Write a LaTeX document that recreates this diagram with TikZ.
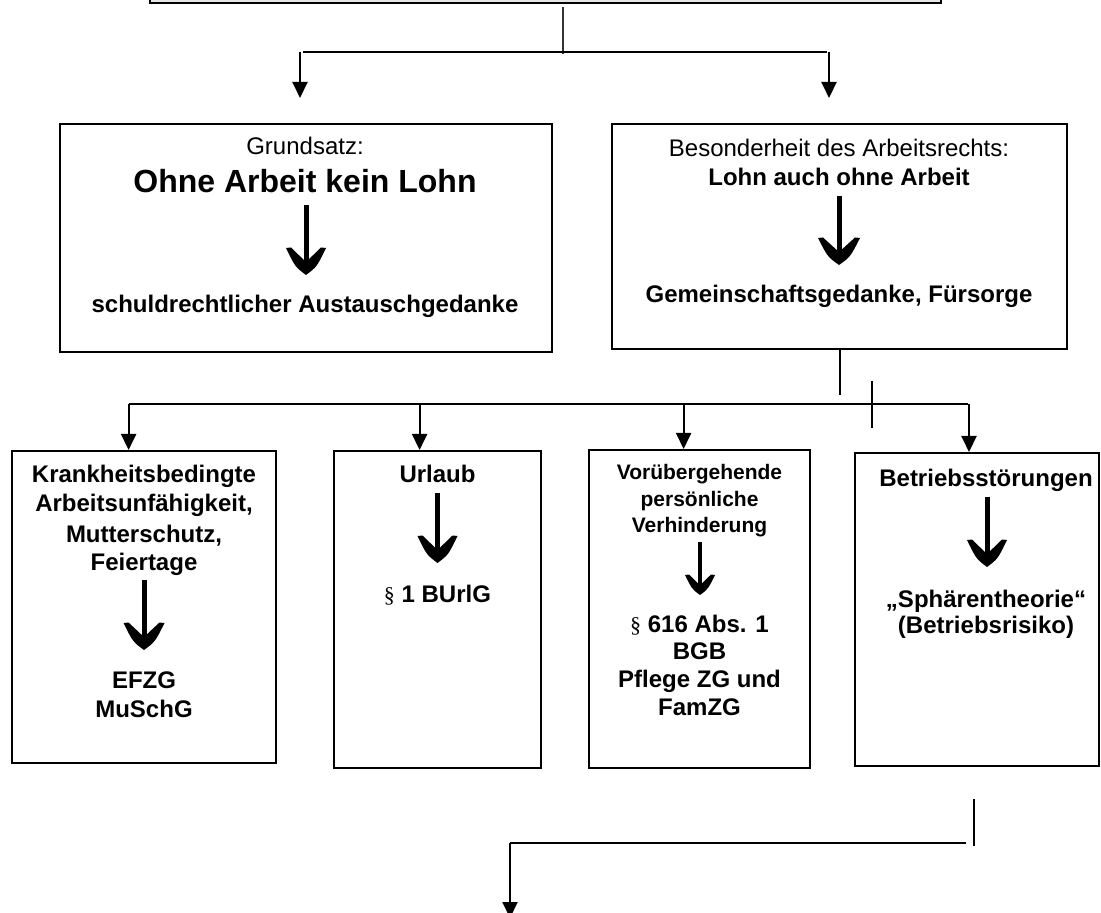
\documentclass[tikz,border=0pt]{standalone}
\usepackage{fontspec}
\setmainfont{Liberation Sans}
\newfontfamily\parafont{Liberation Serif}
\usetikzlibrary{arrows.meta,fit}
\newcommand\chevarrow[7]{% x, y-top, y-tip, head width, head height, shaft width, wing tip flat
  \draw[line width=#6] (#1,#2) -- (#1,#3-#5*0.45);
  \fill (#1,#3) .. controls (#1-#4*0.27,#3-#5*0.3) .. (#1-#4/2,#3-#5)
        -- (#1-#4/2+#7,#3-#5-0.5) -- (#1,#3-#5*0.48)
        -- (#1+#4/2-#7,#3-#5-0.5)
        -- (#1+#4/2,#3-#5) .. controls (#1+#4*0.27,#3-#5*0.3) .. (#1,#3) -- cycle;}
\begin{document}
\begin{tikzpicture}[x=0.5pt,y=-0.5pt,
  box/.style={draw,line width=1pt,inner sep=0pt,fit={#1}},
  reg/.style={anchor=base,inner sep=0pt,font=\fontsize{12}{14}\selectfont},
  bld/.style={anchor=base,inner sep=0pt,font=\fontsize{12}{14}\selectfont\bfseries},
  bigbld/.style={anchor=base,inner sep=0pt,font=\fontsize{16}{19}\selectfont\bfseries},
  smbld/.style={anchor=base,inner sep=0pt,font=\fontsize{10.5}{13}\selectfont\bfseries},
  conn/.style={line width=1pt},
  thinconn/.style={line width=0.6pt,black!80},
  arr/.style={line width=1pt,-{Triangle[width=7.5pt,length=8pt]}}]
\useasboundingbox (0,0) rectangle (1101,913);
\fill[white] (0,0) rectangle (1101,913);
\clip (0,0) rectangle (1101,913);

% top box (cut off by the page edge)
\node[box={(150,-60) (941,3)},fill=gray!20] (top) {};

% second level boxes
\node[box={(60,124) (552,352)}] (L) {};
\node[box={(612,124) (1067,349)}] (R) {};

% third level boxes
\node[box={(12,451) (276,763)}] (B1) {};
\node[box={(334,451) (541,768)}] (B2) {};
\node[box={(589,450) (810,768)}] (B3) {};
\node[box={(855,453) (1099,766)}] (B4) {};

% texts left box
\node[reg] (L1) at (305,155) {Grundsatz:};
\node[bigbld] (L2) at (305,193) {Ohne Arbeit kein Lohn};
\chevarrow{306}{205}{275}{40}{27}{2.5pt}{5}
\node[bld] (L3) at (305,313) {schuldrechtlicher Austauschgedanke};

% texts right box
\node[reg] (R1) at (839,157) {Besonderheit des Arbeitsrechts:};
\node[bld] (R2) at (839,186) {Lohn auch ohne Arbeit};
\chevarrow{839}{196}{265}{42}{27}{2.5pt}{5}
\node[bld] (R3) at (839,303) {Gemeinschaftsgedanke, Fürsorge};

% box 1
\node[bld] (B1a) at (144,483) {Krankheitsbedingte};
\node[bld] (B1b) at (144,512) {Arbeitsunfähigkeit,};
\node[bld] (B1c) at (144,542) {Mutterschutz,};
\node[bld] (B1d) at (144,570) {Feiertage};
\chevarrow{144}{580}{650}{41}{27}{2.5pt}{5}
\node[bld] (B1e) at (144,688) {EFZG};
\node[bld] (B1f) at (144,717) {MuSchG};

% box 2
\node[bld] (B2a) at (437.5,483) {Urlaub};
\chevarrow{437.5}{493}{563}{40}{27}{2.5pt}{5}
\node[bld] (B2b) at (437.5,602) {{\parafont\mdseries\fontsize{11}{13}\selectfont\S} 1 BUrlG};

% box 3
\node[smbld] (B3a) at (699.5,480) {Vorübergehende};
\node[smbld] (B3b) at (699.5,507) {persönliche};
\node[smbld] (B3c) at (699.5,532) {Verhinderung};
\chevarrow{700}{542}{595}{30}{20}{1.8pt}{4}
\node[bld] (B3d) at (699.5,632) {{\parafont\mdseries\fontsize{11}{13}\selectfont\S} 616 Abs. 1};
\node[bld] (B3e) at (699.5,659) {BGB};
\node[bld] (B3f) at (699.5,687) {Pflege ZG und};
\node[bld] (B3g) at (699.5,715) {FamZG};

% box 4
\node[bld] (B4a) at (986,487) {Betriebsstörungen};
\chevarrow{987}{497}{567}{40}{27}{2.5pt}{5}
\node[bld] (B4b) at (986,607) {„Sphärentheorie“};
\node[bld] (B4c) at (986,633) {(Betriebsrisiko)};

% connectors: top level
\coordinate (tj) at (563,54);
\coordinate (h1l) at (303,52.5);
\coordinate (h1r) at (827,52.5);
\coordinate (a1s) at (300,52);
\coordinate (a1e) at (300,98);
\coordinate (a2s) at (829,52);
\coordinate (a2e) at (829,98);
\draw[thinconn] (563,7) -- (tj);
\draw[conn] (h1l) -- (h1r);
\draw[arr] (a1s) -- (a1e);
\draw[arr] (a2s) -- (a2e);

% connectors: from right box to third level
\coordinate (rs) at (840,395);
\draw[conn] (R.south -| rs) -- (rs);
\coordinate (h2l) at (128.6,404);
\coordinate (h2r) at (968,404);
\draw[conn] (h2l) -- (h2r);
\coordinate (t2a) at (872,381);
\coordinate (t2b) at (872,428);
\draw[conn] (t2a) -- (t2b);
\coordinate (d1) at (128.6,404);
\coordinate (d2) at (419.6,404);
\coordinate (d3) at (683.6,404);
\coordinate (d4) at (969,404);
\draw[arr] (d1) -- (d1 |- B1.north);
\draw[arr] (d2) -- (d2 |- B2.north);
\draw[arr] (d3) -- (d3 |- B3.north);
\draw[arr] (d4) -- (d4 |- B4.north);

% connectors: bottom
\coordinate (t3a) at (974,799);
\coordinate (t3b) at (974,846);
\draw[conn] (t3a) -- (t3b);
\coordinate (h3l) at (510,843);
\coordinate (h3r) at (966,843);
\draw[conn] (h3l) -- (h3r);
\coordinate (a3e) at (510,918);
\draw[arr] (h3l) -- (a3e);
\end{tikzpicture}
\end{document}
